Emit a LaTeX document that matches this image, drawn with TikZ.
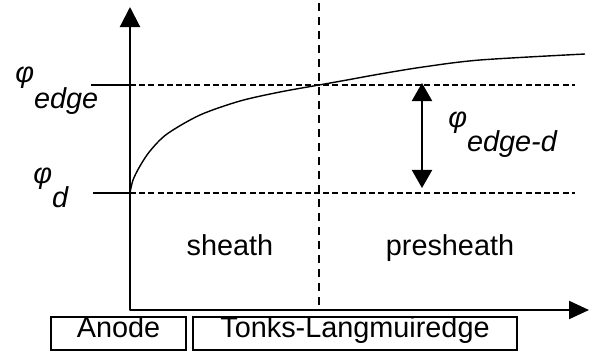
\documentclass[tikz,border=0pt]{standalone}
\usepackage{fontspec}
\setmainfont{Liberation Sans}
\usetikzlibrary{arrows.meta, positioning}

\begin{document}
\begin{tikzpicture}[
        x=0.025cm, y=-0.025cm,
        axis/.style={line width=1.5pt, line join=round},
        guide/.style={line width=1pt, dash pattern=on 0.15cm off 0.08cm},
        divider/.style={line width=1.2pt, dash pattern=on 0.2cm off 0.15cm},
        tag/.style={font=\fontsize{20.5}{24}\selectfont, inner sep=0pt, anchor=base},
        pot/.style={font=\fontsize{20.5}{24}\selectfont\itshape, inner sep=0pt, anchor=base west},
        region/.style={rectangle, draw, line width=1.2pt, minimum height=0.83cm, inner sep=0pt,
            text height=0.75em, text depth=0.25em, font=\fontsize{20.5}{24}\selectfont}
    ]
        \useasboundingbox (0,0) rectangle (592,355);

        % Axes
        \coordinate (O) at (130,310);
        \coordinate (ytop) at (130,7);
        \coordinate (xend) at (589,310);
        \draw[axis, {Triangle[width=0.5cm,length=0.5cm]}-{Triangle[width=0.45cm,length=0.5cm]}] (ytop) -- (O) -- (xend);

        % Potential levels
        \coordinate (edgeL) at (91,85);
        \coordinate (edgeA) at (130,85);
        \coordinate (edgeR) at (575,85);
        \coordinate (dL) at (93,193);
        \coordinate (dA) at (130,193);
        \coordinate (dR) at (575,193);
        \draw[axis] (edgeL) -- (edgeA);
        \draw[guide] (edgeA) -- (edgeR);
        \draw[axis] (dL) -- (dA);
        \draw[guide] (dA) -- (dR);

        % Sheath edge
        \coordinate (divT) at (319,3);
        \coordinate (divB) at (319,310);
        \draw[divider] (divT) -- (divB);

        % Potential profile
        \draw[line width=1pt] plot[smooth] coordinates {(130,193) (133,180) (140,166) (150,151) (167,134)
            (200,115) (240,101) (280,92) (319,85) (347,80) (380,74) (423,67) (480,60) (585,54)};

        % Potential drop
        \coordinate (dropT) at (422,83);
        \coordinate (dropB) at (422,188);
        \draw[line width=1.5pt, {Triangle[width=0.5cm,length=0.45cm]}-{Triangle[width=0.5cm,length=0.45cm]}] (dropT) -- (dropB);

        % Labels
        \node[pot] (phiedge) at (15,82) {φ\raisebox{-0.65cm}{edge}};
        \node[pot] (phid) at (33,183) {φ\raisebox{-0.6cm}{d}};
        \node[pot] (phidrop) at (448,127) {φ\raisebox{-0.6cm}{edge-d}};
        \node[tag] (sheath) at (230,255) {sheath};
        \node[tag] (presheath) at (450,255) {presheath};

        % Regions
        \node[region, minimum width=3.375cm] (anode) at (118.5,333.5) {Anode};
        \node[region, minimum width=8.1cm] (tonks) at (355,333.5) {Tonks-Langmuiredge};
\end{tikzpicture}
\end{document}
